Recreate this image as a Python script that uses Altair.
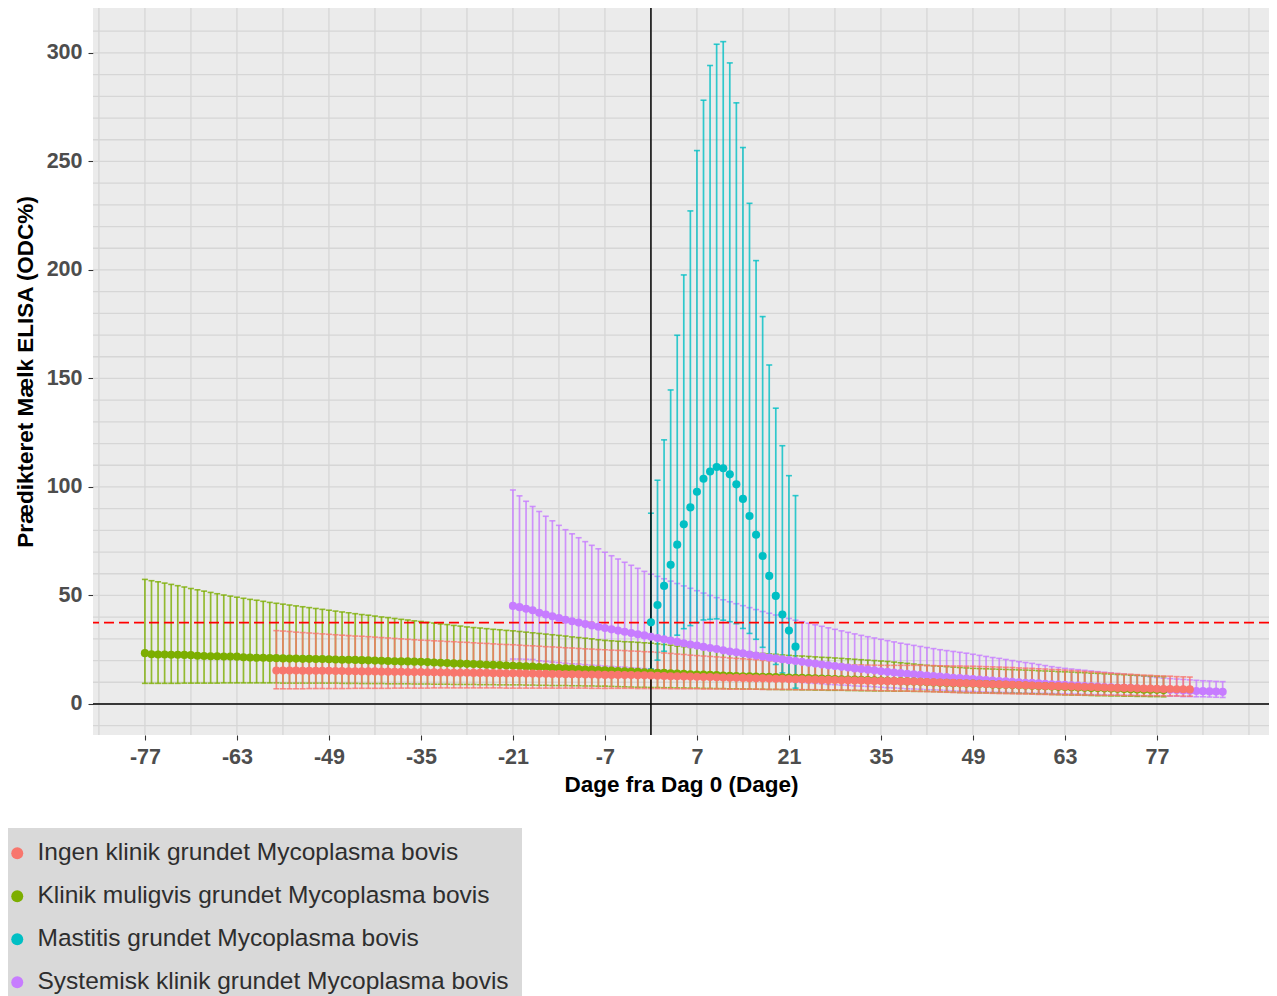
import altair as alt
import pandas as pd

GROUPS = ["Ingen klinik grundet Mycoplasma bovis",
          "Klinik muligvis grundet Mycoplasma bovis",
          "Mastitis grundet Mycoplasma bovis",
          "Systemisk klinik grundet Mycoplasma bovis"]
COLORS = ["#F8766D", "#7CAE00", "#00BFC4", "#C77CFF"]

X_TICKS = [-77, -63, -49, -35, -21, -7, 7, 21, 35, 49, 63, 77]
Y_TICKS = [0, 50, 100, 150, 200, 250, 300]
GRID_X = [-84, -77, -70, -63, -56, -49, -42, -35, -28, -21, -14, -7, 0, 7, 14,
          21, 28, 35, 42, 49, 56, 63, 70, 77, 84, 91]
GRID_Y = [-10, 0, 10, 20, 30, 40, 50, 60, 70, 80, 90, 100, 110, 120, 130, 140,
          150, 160, 170, 180, 190, 200, 210, 220, 230, 240, 250, 260, 270, 280,
          290, 300, 310]
THRESHOLD = 37.5

# ---- Ingen klinik (red), days -57 .. 82
ingen_start = -57
ingen_pt = [15.4, 15.4, 15.4, 15.4, 15.3, 15.3, 15.3,
            15.3, 15.3, 15.2, 15.2, 15.1, 15.1, 15.0,
            15.0, 15.0, 14.9, 14.9, 14.8, 14.8, 14.7,
            14.7, 14.7, 14.6, 14.6, 14.5, 14.5, 14.4,
            14.4, 14.4, 14.3, 14.3, 14.3, 14.2, 14.2,
            14.1, 14.1, 14.1, 14.0, 14.0, 13.9, 13.9,
            13.8, 13.8, 13.7, 13.7, 13.7, 13.6, 13.6,
            13.5, 13.4, 13.4, 13.4, 13.3, 13.3, 13.2,
            13.2, 13.1, 13.0, 12.9, 12.8, 12.8, 12.7,
            12.6, 12.5, 12.4, 12.4, 12.3, 12.2, 12.1,
            12.1, 12.0, 11.9, 11.8, 11.8, 11.7, 11.6,
            11.6, 11.5, 11.4, 11.4, 11.3, 11.2, 11.1,
            11.1, 11.0, 10.9, 10.9, 10.8, 10.8, 10.7,
            10.6, 10.6, 10.5, 10.5, 10.4, 10.4, 10.3,
            10.2, 10.1, 10.0, 9.9, 9.8, 9.7, 9.6,
            9.5, 9.4, 9.3, 9.2, 9.1, 9.0, 8.9,
            8.8, 8.7, 8.6, 8.5, 8.4, 8.3, 8.2,
            8.2, 8.1, 8.0, 7.9, 7.8, 7.8, 7.7,
            7.6, 7.5, 7.4, 7.4, 7.3, 7.2, 7.1,
            7.1, 7.0, 6.9, 6.9, 6.8, 6.8, 6.7]
ingen_hi = [33.8, 33.6, 33.4, 33.1, 32.9, 32.7, 32.5,
            32.3, 32.1, 31.9, 31.7, 31.5, 31.3, 31.2,
            31.0, 30.8, 30.6, 30.4, 30.2, 30.0, 29.8,
            29.6, 29.4, 29.3, 29.1, 29.0, 28.8, 28.7,
            28.5, 28.4, 28.2, 28.0, 27.9, 27.7, 27.5,
            27.4, 27.3, 27.1, 26.9, 26.8, 26.6, 26.4,
            26.3, 26.1, 25.9, 25.8, 25.6, 25.4, 25.3,
            25.1, 25.0, 24.8, 24.7, 24.6, 24.4, 24.3,
            24.1, 24.0, 23.8, 23.5, 23.3, 23.0, 22.8,
            22.5, 22.3, 22.1, 21.9, 21.7, 21.5, 21.2,
            21.0, 20.8, 20.6, 20.4, 20.1, 19.9, 19.7,
            19.5, 19.3, 19.2, 19.0, 18.9, 18.7, 18.6,
            18.4, 18.3, 18.2, 18.1, 18.0, 18.0, 17.9,
            17.9, 17.8, 17.8, 17.8, 17.8, 17.8, 17.8,
            17.8, 17.7, 17.7, 17.6, 17.6, 17.5, 17.5,
            17.4, 17.4, 17.3, 17.2, 17.1, 17.0, 16.9,
            16.8, 16.6, 16.5, 16.4, 16.2, 16.1, 15.9,
            15.8, 15.6, 15.4, 15.2, 15.0, 14.8, 14.6,
            14.4, 14.2, 14.0, 13.8, 13.7, 13.5, 13.3,
            13.2, 13.0, 12.9, 12.8, 12.6, 12.5, 12.4]
ingen_lo = [7.0, 7.0, 7.0, 7.0, 7.0, 7.1, 7.1,
            7.1, 7.1, 7.1, 7.1, 7.1, 7.2, 7.2,
            7.2, 7.2, 7.2, 7.2, 7.3, 7.3, 7.3,
            7.3, 7.3, 7.3, 7.4, 7.4, 7.4, 7.4,
            7.4, 7.4, 7.4, 7.4, 7.4, 7.4, 7.4,
            7.3, 7.3, 7.3, 7.3, 7.3, 7.3, 7.3,
            7.3, 7.3, 7.3, 7.3, 7.3, 7.3, 7.2,
            7.2, 7.2, 7.2, 7.2, 7.2, 7.2, 7.1,
            7.1, 7.1, 7.1, 7.1, 7.0, 7.0, 7.0,
            7.0, 7.0, 6.9, 6.9, 6.9, 6.9, 6.8,
            6.8, 6.8, 6.8, 6.8, 6.7, 6.7, 6.7,
            6.7, 6.7, 6.6, 6.6, 6.6, 6.6, 6.5,
            6.5, 6.5, 6.4, 6.4, 6.3, 6.3, 6.2,
            6.2, 6.1, 6.1, 6.0, 6.0, 5.9, 5.9,
            5.8, 5.7, 5.6, 5.5, 5.4, 5.3, 5.2,
            5.2, 5.1, 5.0, 5.0, 4.9, 4.8, 4.8,
            4.7, 4.6, 4.6, 4.5, 4.4, 4.4, 4.3,
            4.3, 4.2, 4.2, 4.1, 4.1, 4.1, 4.0,
            4.0, 4.0, 4.0, 3.9, 3.9, 3.9, 3.8,
            3.8, 3.8, 3.7, 3.7, 3.7, 3.6, 3.6]

# ---- Klinik muligvis (green), days -77 .. 78
klinik_start = -77
klinik_pt = [23.4, 22.9, 22.8, 22.8, 22.7, 22.7, 22.6,
             22.5, 22.2, 22.1, 22.0, 22.0, 21.9, 21.9,
             21.8, 21.5, 21.4, 21.3, 21.3, 21.2, 21.1,
             21.0, 20.9, 20.9, 20.8, 20.8, 20.7, 20.7,
             20.6, 20.5, 20.4, 20.4, 20.3, 20.2, 20.1,
             20.0, 19.9, 19.8, 19.7, 19.6, 19.6, 19.5,
             19.4, 19.3, 19.1, 19.0, 18.9, 18.7, 18.6,
             18.5, 18.4, 18.3, 18.1, 18.0, 17.9, 17.7,
             17.6, 17.5, 17.3, 17.2, 17.0, 16.9, 16.7,
             16.6, 16.4, 16.3, 16.1, 15.9, 15.8, 15.6,
             15.5, 15.4, 15.2, 15.1, 14.9, 14.8, 14.6,
             14.5, 14.4, 14.3, 14.1, 14.0, 13.9, 13.7,
             13.6, 13.5, 13.4, 13.3, 13.1, 13.0, 12.9,
             12.8, 12.7, 12.6, 12.5, 12.5, 12.4, 12.3,
             12.2, 12.1, 12.0, 11.9, 11.8, 11.7, 11.6,
             11.5, 11.4, 11.3, 11.2, 11.1, 11.0, 10.9,
             10.8, 10.7, 10.6, 10.5, 10.4, 10.3, 10.2,
             10.0, 9.9, 9.8, 9.7, 9.6, 9.5, 9.4,
             9.4, 9.3, 9.2, 9.0, 8.9, 8.8, 8.7,
             8.6, 8.5, 8.4, 8.3, 8.2, 8.1, 7.9,
             7.8, 7.7, 7.6, 7.5, 7.4, 7.3, 7.2,
             7.1, 7.0, 6.9, 6.8, 6.7, 6.6, 6.6,
             6.5, 6.4]
klinik_hi = [57.4, 56.8, 56.3, 55.7, 55.1, 54.5, 53.9,
             53.2, 52.6, 52.0, 51.4, 50.8, 50.2, 49.7,
             49.2, 48.7, 48.2, 47.8, 47.3, 46.8, 46.4,
             46.0, 45.6, 45.2, 44.8, 44.4, 44.0, 43.6,
             43.2, 42.8, 42.4, 42.0, 41.6, 41.2, 40.9,
             40.5, 40.1, 39.8, 39.4, 39.0, 38.7, 38.3,
             38.0, 37.6, 37.3, 36.9, 36.6, 36.2, 35.9,
             35.5, 35.2, 35.0, 34.7, 34.4, 34.2, 33.9,
             33.7, 33.4, 33.1, 32.8, 32.5, 32.2, 31.9,
             31.6, 31.3, 30.9, 30.6, 30.3, 30.0, 29.6,
             29.3, 29.1, 28.9, 28.7, 28.6, 28.4, 28.2,
             28.0, 27.7, 27.4, 27.1, 26.7, 26.4, 26.1,
             25.8, 25.5, 25.3, 25.0, 24.8, 24.5, 24.3,
             24.0, 23.8, 23.5, 23.3, 23.1, 22.9, 22.6,
             22.4, 22.2, 22.1, 21.9, 21.7, 21.5, 21.4,
             21.2, 21.0, 20.8, 20.6, 20.4, 20.2, 20.0,
             19.8, 19.6, 19.3, 19.0, 18.7, 18.4, 18.1,
             17.8, 17.6, 17.4, 17.2, 17.0, 16.8, 16.6,
             16.4, 16.3, 16.2, 16.1, 16.0, 15.9, 15.8,
             15.7, 15.6, 15.5, 15.3, 15.2, 15.1, 14.9,
             14.8, 14.7, 14.5, 14.4, 14.2, 14.1, 13.9,
             13.8, 13.6, 13.5, 13.3, 13.2, 13.0, 12.9,
             12.7, 12.6]
klinik_lo = [9.5, 9.5, 9.5, 9.5, 9.5, 9.5, 9.6,
             9.6, 9.6, 9.6, 9.6, 9.6, 9.7, 9.7,
             9.7, 9.7, 9.7, 9.7, 9.7, 9.7, 9.7,
             9.6, 9.6, 9.6, 9.6, 9.6, 9.6, 9.6,
             9.6, 9.6, 9.5, 9.5, 9.5, 9.4, 9.4,
             9.4, 9.4, 9.3, 9.3, 9.3, 9.3, 9.2,
             9.2, 9.2, 9.1, 9.1, 9.1, 9.0, 9.0,
             9.0, 9.0, 8.9, 8.9, 8.9, 8.8, 8.8,
             8.8, 8.8, 8.7, 8.7, 8.6, 8.6, 8.5,
             8.5, 8.5, 8.4, 8.4, 8.3, 8.3, 8.2,
             8.2, 8.1, 8.0, 7.9, 7.8, 7.7, 7.7,
             7.6, 7.6, 7.5, 7.5, 7.4, 7.4, 7.3,
             7.3, 7.2, 7.2, 7.1, 7.1, 7.0, 7.0,
             6.9, 6.9, 6.8, 6.8, 6.7, 6.7, 6.6,
             6.6, 6.6, 6.5, 6.5, 6.4, 6.4, 6.3,
             6.3, 6.3, 6.2, 6.2, 6.1, 6.1, 6.0,
             6.0, 6.0, 5.9, 5.9, 5.9, 5.8, 5.8,
             5.8, 5.7, 5.6, 5.5, 5.4, 5.3, 5.2,
             5.2, 5.1, 5.1, 5.0, 5.0, 4.9, 4.9,
             4.9, 4.8, 4.7, 4.6, 4.5, 4.4, 4.3,
             4.2, 4.1, 4.1, 4.0, 3.9, 3.8, 3.8,
             3.7, 3.7, 3.6, 3.6, 3.5, 3.5, 3.4,
             3.4, 3.3]

# ---- Mastitis (cyan), days 0 .. 22
mastitis_start = 0
mastitis_pt = [37.6, 45.6, 54.4, 64.1, 73.4, 82.8, 90.6, 97.8, 103.8, 107.1,
               109.2, 108.6, 105.8, 101.2, 94.5, 86.6, 78.0, 68.2, 59.0, 49.8,
               41.2, 33.8, 26.4]
mastitis_hi = [87.9, 103.1, 121.7, 144.7, 169.9, 197.7, 227.2, 255.0, 278.2,
               294.2, 304.0, 305.2, 295.4, 277.0, 256.4, 230.7, 204.3, 178.5,
               156.2, 136.3, 119.0, 105.2, 96.0]
mastitis_lo = [16.1, 20.2, 24.3, 28.4, 31.7, 34.7, 36.1, 37.5, 38.7, 39.0,
               39.2, 38.6, 37.9, 37.0, 34.8, 32.5, 29.8, 26.1, 22.3, 18.2,
               14.3, 10.9, 7.3]

# ---- Systemisk (purple), days -21 .. 87
systemisk_start = -21
systemisk_pt = [45.2, 44.6, 43.9, 43.2, 42.0, 41.2, 40.4, 39.6, 38.8, 38.1, 37.5,
                36.8, 36.2, 35.6, 35.0, 34.4, 33.8, 33.3, 32.7, 32.1, 31.6, 31.0,
                30.4, 29.8, 29.2, 28.6, 28.0, 27.4, 26.9, 26.3, 25.8, 25.3,
                24.7, 24.2, 23.8, 23.3, 22.8, 22.3, 21.9, 21.4, 21.0, 20.6,
                20.2, 19.8, 19.4, 19.0, 18.6, 18.2, 17.8, 17.5, 17.1, 16.8,
                16.4, 16.1, 15.8, 15.5, 15.1, 14.8, 14.5, 14.2, 13.9, 13.7,
                13.4, 13.1, 12.9, 12.6, 12.4, 12.1, 11.9, 11.7, 11.5, 11.2,
                11.0, 10.8, 10.6, 10.4, 10.2, 10.0, 9.8, 9.7, 9.5, 9.3,
                9.1, 8.9, 8.8, 8.6, 8.5, 8.3, 8.1, 8.0, 7.8, 7.7,
                7.5, 7.4, 7.3, 7.1, 7.0, 6.9, 6.7, 6.6, 6.5, 6.4,
                6.2, 6.1, 6.0, 5.9, 5.8, 5.7, 5.6]
systemisk_hi = [98.6, 95.9, 93.4, 91.0, 88.7, 86.5, 84.4, 82.3, 80.3, 78.4, 76.6,
                74.8, 73.1, 71.5, 69.9, 68.3, 66.8, 65.3, 63.9, 62.5, 61.1, 59.8,
                58.8, 57.7, 56.6, 55.5, 54.4, 53.3, 52.2, 51.1, 50.0, 49.0,
                48.0, 47.1, 46.2, 45.3, 44.4, 43.5, 42.6, 41.8, 41.0, 40.2,
                39.4, 38.6, 37.9, 37.2, 36.5, 35.8, 35.1, 34.4, 33.7, 33.0,
                32.3, 31.6, 31.0, 30.4, 29.8, 29.2, 28.6, 28.0, 27.5, 27.0,
                26.5, 26.0, 25.5, 25.0, 24.6, 24.2, 23.8, 23.4, 22.9, 22.4,
                21.9, 21.4, 21.0, 20.5, 20.0, 19.5, 19.1, 18.7, 18.2, 17.7,
                17.2, 16.8, 16.4, 16.1, 15.8, 15.5, 15.2, 14.9, 14.6, 14.3,
                14.0, 13.7, 13.4, 13.1, 12.8, 12.5, 12.2, 11.9, 11.7, 11.5,
                11.3, 11.1, 10.9, 10.7, 10.6, 10.4, 10.3]
systemisk_lo = [20.7, 20.7, 20.6, 20.5, 19.9, 19.6, 19.3, 19.1, 18.7, 18.5, 18.4,
                18.1, 17.9, 17.7, 17.5, 17.3, 17.1, 17.0, 16.7, 16.5, 16.3, 16.1,
                15.7, 15.4, 15.1, 14.7, 14.4, 14.1, 13.9, 13.5, 13.3, 13.1,
                12.7, 12.4, 12.3, 12.0, 11.7, 11.4, 11.3, 11.0, 10.8, 10.6,
                10.4, 10.2, 9.9, 9.7, 9.5, 9.3, 9.0, 8.9, 8.7, 8.6,
                8.3, 8.2, 8.1, 7.9, 7.7, 7.5, 7.4, 7.2, 7.0, 6.9,
                6.8, 6.6, 6.5, 6.4, 6.2, 6.0, 5.9, 5.8, 5.8, 5.6,
                5.5, 5.4, 5.4, 5.3, 5.2, 5.1, 5.0, 5.0, 4.9, 4.9,
                4.8, 4.7, 4.7, 4.6, 4.6, 4.4, 4.3, 4.3, 4.2, 4.1,
                4.0, 4.0, 4.0, 3.8, 3.8, 3.8, 3.7, 3.7, 3.6, 3.6,
                3.4, 3.4, 3.3, 3.3, 3.2, 3.1, 3.0]

SERIES = [  # drawing order: purple, green, red, cyan
    (3, systemisk_start, systemisk_pt, systemisk_lo, systemisk_hi),
    (1, klinik_start, klinik_pt, klinik_lo, klinik_hi),
    (0, ingen_start, ingen_pt, ingen_lo, ingen_hi),
    (2, mastitis_start, mastitis_pt, mastitis_lo, mastitis_hi),
]

frames = []
for gi, start, pts, los, his in SERIES:
    if not (len(pts) == len(los) == len(his)):
        raise ValueError(f"{GROUPS[gi]}: {len(pts)} {len(los)} {len(his)}")
    frames.append((gi, pd.DataFrame({
        "group": [GROUPS[gi]] * len(pts),
        "day": [start + i for i in range(len(pts))],
        "pt": pts, "lo": los, "hi": his})))
df_all = pd.concat([f for _, f in frames], ignore_index=True)

FONT = "Liberation Sans"
xscale = alt.Scale(domain=[-84.9, 94.05], nice=False, zero=False)
yscale = alt.Scale(domain=[-14.3, 320.7], nice=False, zero=False)

xaxis = alt.Axis(values=X_TICKS, grid=False, domain=False, tickSize=5, tickWidth=1.1,
                 tickColor="#333333", labelExpr="'' + datum.value", labelFont=FONT,
                 labelFontSize=21.5, labelFontWeight="bold", labelColor="#4D4D4D",
                 labelPadding=6, labelFlush=False, labelOverlap=False,
                 title="Dage fra Dag 0 (Dage)", titleFont=FONT, titleFontSize=22.5,
                 titleFontWeight="bold", titleColor="#000000", titlePadding=6)
yaxis = alt.Axis(values=Y_TICKS, grid=False, domain=False, tickSize=5, tickWidth=1.1,
                 tickColor="#333333", labelFont=FONT, labelFontSize=21.5,
                 labelFontWeight="bold", labelColor="#4D4D4D", labelPadding=6,
                 labelOverlap=False, title="Prædikteret Mælk ELISA (ODC%)",
                 titleFont=FONT, titleFontSize=22.5, titleFontWeight="bold",
                 titleColor="#000000", titlePadding=9)

X = lambda f: alt.X(f, scale=xscale, axis=xaxis)
Y = lambda f: alt.Y(f, scale=yscale, axis=yaxis)

layers = []
layers.append(alt.Chart(pd.DataFrame({"g": GRID_X})).mark_rule(
    color="#D6D6D6", strokeWidth=1.3).encode(x=X("g:Q")))
layers.append(alt.Chart(pd.DataFrame({"g": GRID_Y})).mark_rule(
    color="#D6D6D6", strokeWidth=1.3).encode(y=Y("g:Q")))

BAR_OP = 0.8
for gi, f in frames:
    col = COLORS[gi]
    b = alt.Chart(f)
    layers.append(b.mark_rule(color=col, strokeWidth=1.7, opacity=BAR_OP).encode(
        x=X("day:Q"), y=Y("lo:Q"), y2="hi:Q"))
    layers.append(b.mark_tick(color=col, orient="horizontal", size=6, thickness=1.6,
                              opacity=BAR_OP).encode(x=X("day:Q"), y=Y("hi:Q")))
    layers.append(b.mark_tick(color=col, orient="horizontal", size=6, thickness=1.6,
                              opacity=BAR_OP).encode(x=X("day:Q"), y=Y("lo:Q")))

zero_df = pd.DataFrame({"v": [0]})
layers.append(alt.Chart(zero_df).mark_rule(color="#000000", strokeWidth=1.5).encode(y=Y("v:Q")))
layers.append(alt.Chart(zero_df).mark_rule(color="#000000", strokeWidth=1.5).encode(x=X("v:Q")))
layers.append(alt.Chart(pd.DataFrame({"v": [THRESHOLD]})).mark_rule(
    color="#FF0000", strokeWidth=1.8, strokeDash=[10, 5]).encode(y=Y("v:Q")))

layers.append(alt.Chart(df_all).mark_circle(size=66, opacity=1).encode(
    x=X("day:Q"), y=Y("pt:Q"),
    color=alt.Color("group:N", scale=alt.Scale(domain=GROUPS, range=COLORS),
                    legend=alt.Legend(
                        title=None, orient="none", legendX=-101, legendY=820,
                        direction="vertical", fillColor="#D9D9D9", padding=13,
                        symbolType="circle", symbolSize=144, symbolOpacity=1,
                        symbolStrokeWidth=0, labelFont=FONT, labelFontSize=24.5,
                        labelColor="#2E2E2E", labelLimit=800, rowPadding=18,
                        labelOffset=8))))

chart = alt.layer(*layers).properties(
    width=1176, height=727,
    padding={"left": 85, "top": 0, "right": 0, "bottom": 261},
    autosize=alt.AutoSizeParams(type="none"),
    background="#FFFFFF",
).configure_view(stroke=None, fill="#EBEBEB")

chart.save("out.html", embed_options={"renderer": "svg", "actions": False})
